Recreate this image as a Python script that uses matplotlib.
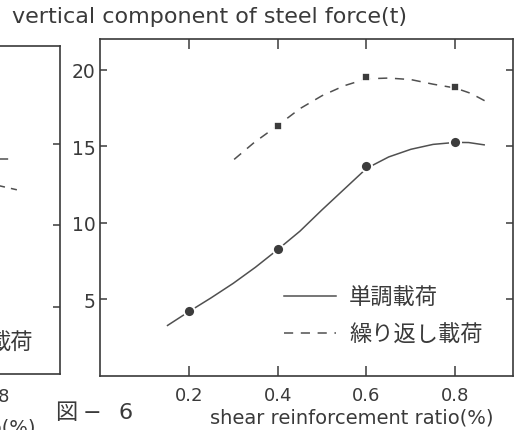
import matplotlib.pyplot as plt
from matplotlib.lines import Line2D

# Measured points (shear reinforcement ratio %, vertical steel force t)
ratio = [0.2, 0.4, 0.6, 0.8]
mono_force = [4.25, 8.3, 13.7, 15.3]
cyclic_ratio = [0.4, 0.6, 0.8]
cyclic_force = [16.35, 19.55, 18.85]

# Hand-fitted trend curves, read point by point
mono_curve_x = [0.152, 0.20, 0.25, 0.30, 0.35, 0.40, 0.45, 0.50, 0.55,
                0.60, 0.65, 0.70, 0.75, 0.80, 0.83, 0.865]
mono_curve_y = [3.3, 4.2, 5.1, 6.05, 7.1, 8.25, 9.45, 10.85, 12.2,
                13.55, 14.3, 14.8, 15.12, 15.25, 15.24, 15.09]
cyclic_curve_x = [0.302, 0.347, 0.40, 0.45, 0.50, 0.55, 0.60,
                  0.65, 0.70, 0.75, 0.80, 0.835, 0.868]
cyclic_curve_y = [14.14, 15.24, 16.35, 17.45, 18.3, 18.95, 19.4,
                  19.45, 19.35, 19.05, 18.8, 18.45, 17.94]

# Tail ends of the curves on the neighbouring panel
prev_dash_a_x = [0.795, 0.83]
prev_dash_a_y = [14.1, 14.1]
prev_dash_b_x = [0.795, 0.86]
prev_dash_b_y = [12.5, 12.1]

x_ticks = [0.2, 0.4, 0.6, 0.8]
y_ticks = [5, 10, 15, 20]
legend_labels = ['単調載荷', '繰り返し載荷']

ink = '#3a3a3a'
line_col = '#505050'
cjk = ['Noto Sans CJK JP', 'DejaVu Sans']
dash = (0, (6, 5))

fig = plt.figure(figsize=(5.27, 4.31), dpi=100)

# --- neighbouring panel, mostly cut off at the left edge ---
ax0 = fig.add_axes([-0.672, 0.1299, 0.786, 0.7611])
ax0.set_xlim(0, 0.945)
ax0.set_ylim(0.89, 21.0)
ax0.plot(prev_dash_a_x, prev_dash_a_y, color=line_col, lw=1.1, linestyle=dash)
ax0.plot(prev_dash_b_x, prev_dash_b_y, color=line_col, lw=1.1, linestyle=(0, (4, 4)))
ax0.set_xticks(x_ticks)
ax0.set_xticklabels([f'{v:.1f}' for v in x_ticks])
ax0.set_yticks(y_ticks[:3])
ax0.tick_params(axis='x', length=0, pad=9, labelsize=13, colors=ink)
ax0.tick_params(axis='y', direction='in', right=True, left=False, length=5,
                width=1.1, labelleft=False, colors=ink)
for s in ax0.spines.values():
    s.set_color(ink)
    s.set_linewidth(1.2)

# --- main panel ---
ax = fig.add_axes([0.1898, 0.1253, 0.7837, 0.7819])
ax.set_xlim(0, 0.93)
ax.set_ylim(0, 22)

ax.plot(mono_curve_x, mono_curve_y, color=line_col, lw=1.1, label=legend_labels[0])
ax.plot(cyclic_curve_x, cyclic_curve_y, color=line_col, lw=1.1, linestyle=dash,
        label=legend_labels[1])
ax.plot(ratio, mono_force, 'o', ms=8, color='#3c3c3c', mec='white', mew=1.4)
ax.plot(cyclic_ratio, cyclic_force, 's', ms=5.6, color='#3c3c3c', mec='white', mew=1.2)

ax.set_xticks(x_ticks)
ax.set_xticklabels([f'{v:.1f}' for v in x_ticks])
ax.set_yticks(y_ticks)
ax.tick_params(axis='x', direction='in', top=True, length=7, width=1.1,
               pad=7, labelsize=13, colors=ink)
ax.tick_params(axis='y', direction='in', right=True, length=5, width=1.1,
               pad=3, labelsize=13.5, colors=ink)
for s in ax.spines.values():
    s.set_color(ink)
    s.set_linewidth(1.2)

handles = [Line2D([], [], color=line_col, lw=1.1),
           Line2D([], [], color=line_col, lw=1.1, linestyle=dash)]
leg = ax.legend(handles, legend_labels, loc='upper left',
                bbox_to_anchor=(0.425, 0.2953), frameon=False,
                prop={'family': cjk, 'size': 16}, handlelength=2.3,
                handletextpad=0.6, labelspacing=0.63, borderaxespad=0)
for t in leg.get_texts():
    t.set_color(ink)

# Axis titles and figure number
fig.text(12 / 527, 0.9606, 'vertical component of steel force(t)',
         fontsize=16, color=ink, ha='left', va='center')
fig.text(0.667, 0.0302, 'shear reinforcement ratio(%)',
         fontsize=14, color=ink, ha='center', va='center')
fig.text(35 / 527, 0.006, 'shear reinforcement ratio(%)',
         fontsize=14, color=ink, ha='right', va='center')
fig.text(33 / 527, 1 - 343 / 431, '載荷', family=cjk, fontsize=16,
         color=ink, ha='right', va='center')
fig_y = 1 - 413 / 431
fig.text(55 / 527, fig_y, '図', family=cjk, fontsize=16, color=ink,
         ha='left', va='center')
fig.text(92 / 527, fig_y, '−', fontsize=16, color=ink, ha='center', va='center')
fig.text(118 / 527, fig_y, '6', fontsize=16, color=ink, ha='left', va='center')

fig.savefig('out.png', dpi=100)
